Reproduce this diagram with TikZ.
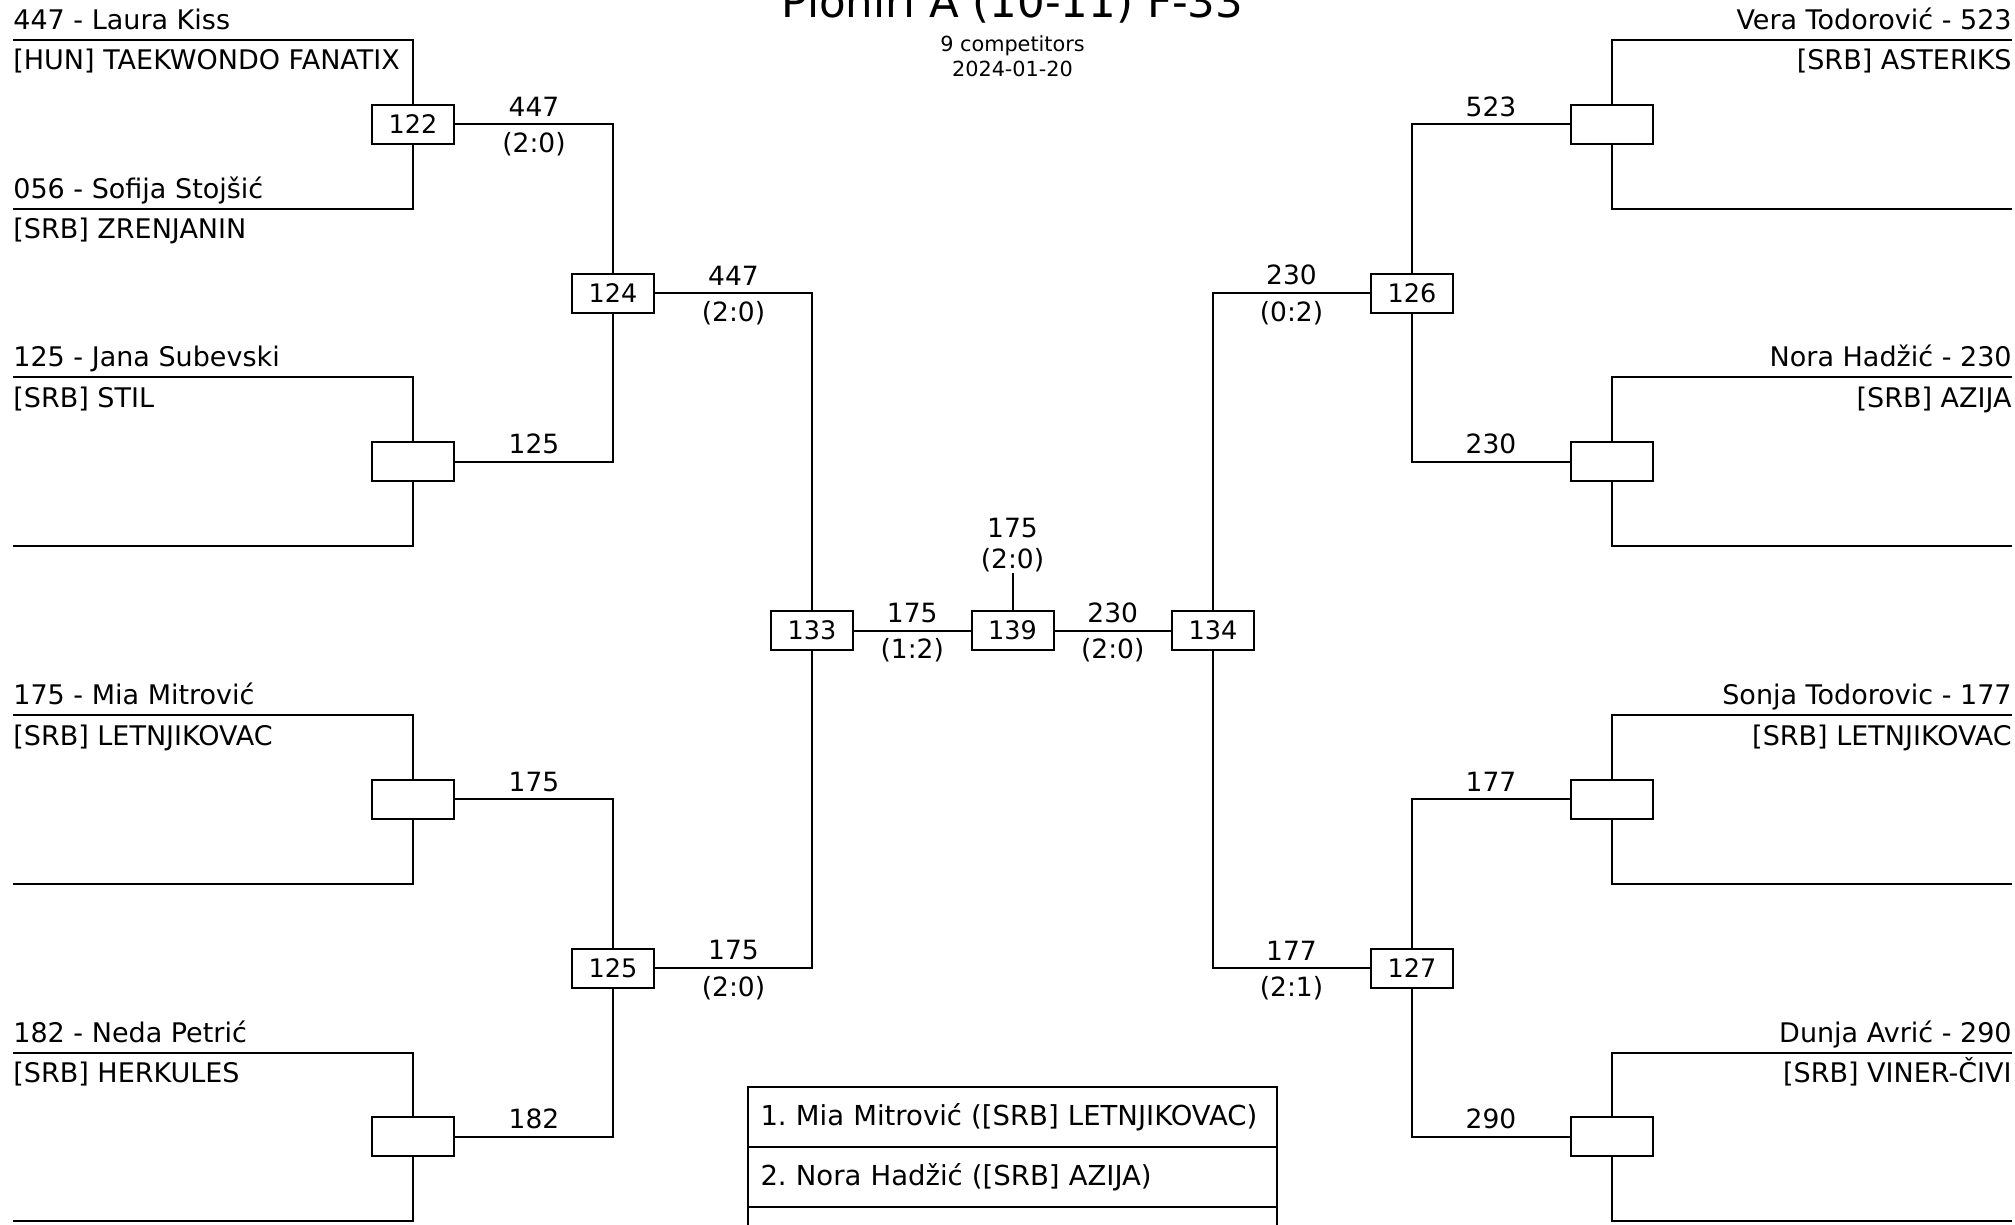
\documentclass[tikz,border=0pt]{standalone}
\usepackage{fontspec}
\setmainfont{DejaVu Sans}
\usetikzlibrary{math}
\frenchspacing

\begin{document}
\begin{tikzpicture}[x=0.5pt, y=-0.5pt,
  bracket/.style={line width=1pt},
  match/.style={draw, fill=white, line width=1pt, minimum width=41pt, minimum height=19.5pt, inner sep=0pt, font=\fontsize{12.75}{15}\selectfont},
  res/.style={inner sep=3.4pt, font=\fontsize{13.25}{15.6}\selectfont},
  namel/.style={anchor=base west, yshift=5.25pt, inner sep=0pt, font=\fontsize{13.5}{16}\selectfont},
  clubl/.style={anchor=base west, yshift=-15pt, inner sep=0pt, font=\fontsize{13.5}{16}\selectfont},
  namer/.style={anchor=base east, yshift=5.25pt, inner sep=0pt, font=\fontsize{13.5}{16}\selectfont},
  clubr/.style={anchor=base east, yshift=-15pt, inner sep=0pt, font=\fontsize{13.5}{16}\selectfont},
  rank/.style={draw, line width=1pt, minimum width=264.5pt, minimum height=30pt, text width=252pt, align=left, inner sep=6pt, font=\fontsize{13.75}{16}\selectfont}]
\tikzmath{
\yo=40;
\dy=168.75;
\xl=13;
\xr=2012;
\xa=413;
\xb=613;
\xc=812;
\xm=1012.5;
\xA=2025-\xa;
\xB=2025-\xb;
\xC=2025-\xc;
}
\useasboundingbox (0,0) rectangle (2015,1225);
\clip (0,0) rectangle (2015,1225);

 % slot ends
 \foreach \i in {1,...,8}{
  \coordinate (l\i) at (\xl,{\yo+(\i-1)*\dy});
  \coordinate (r\i) at (\xr,{\yo+(\i-1)*\dy});
 }

 % title
 \node[anchor=base, font=\fontsize{21.75}{26}\selectfont] (title) at (\xm,18) {Pioniri A (10-11) F-33};
 \node[anchor=base, font=\fontsize{10.4}{12.5}\selectfont] (count) at (\xm,51.7) {9 competitors};
 \node[anchor=base, font=\fontsize{10.4}{12.5}\selectfont] (date) at (\xm,76.7) {2024-01-20};

 % matches
 \node[match] (m122) at (\xa,{\yo+0.5*\dy}) {122};
 \node[match] (ml2) at (\xa,{\yo+2.5*\dy}) {};
 \node[match] (ml3) at (\xa,{\yo+4.5*\dy}) {};
 \node[match] (ml4) at (\xa,{\yo+6.5*\dy}) {};
 \node[match] (m124) at (\xb,{\yo+1.5*\dy}) {124};
 \node[match] (m125) at (\xb,{\yo+5.5*\dy}) {125};
 \node[match] (m133) at (\xc,{\yo+3.5*\dy}) {133};
 \node[match] (m139) at (\xm,{\yo+3.5*\dy}) {139};
 \node[match] (m134) at (\xC,{\yo+3.5*\dy}) {134};
 \node[match] (m126) at (\xB,{\yo+1.5*\dy}) {126};
 \node[match] (m127) at (\xB,{\yo+5.5*\dy}) {127};
 \node[match] (mr1) at (\xA,{\yo+0.5*\dy}) {};
 \node[match] (mr2) at (\xA,{\yo+2.5*\dy}) {};
 \node[match] (mr3) at (\xA,{\yo+4.5*\dy}) {};
 \node[match] (mr4) at (\xA,{\yo+6.5*\dy}) {};
 \coordinate (w139) at (\xm,572.7);

 % left competitors
 \node[namel] (pl1) at (l1) {447 - Laura Kiss};
 \node[clubl] (cl1) at (l1) {[HUN] TAEKWONDO FANATIX};
 \node[namel] (pl2) at (l2) {056 - Sofija Stojšić};
 \node[clubl] (cl2) at (l2) {[SRB] ZRENJANIN};
 \node[namel] (pl3) at (l3) {125 - Jana Subevski};
 \node[clubl] (cl3) at (l3) {[SRB] STIL};
 \node[namel] (pl5) at (l5) {175 - Mia Mitrović};
 \node[clubl] (cl5) at (l5) {[SRB] LETNJIKOVAC};
 \node[namel] (pl7) at (l7) {182 - Neda Petrić};
 \node[clubl] (cl7) at (l7) {[SRB] HERKULES};

 % right competitors
 \node[namer] (pr1) at (r1) {Vera Todorović - 523};
 \node[clubr] (cr1) at (r1) {[SRB] ASTERIKS};
 \node[namer] (pr3) at (r3) {Nora Hadžić - 230};
 \node[clubr] (cr3) at (r3) {[SRB] AZIJA};
 \node[namer] (pr5) at (r5) {Sonja Todorovic - 177};
 \node[clubr] (cr5) at (r5) {[SRB] LETNJIKOVAC};
 \node[namer] (pr7) at (r7) {Dunja Avrić - 290};
 \node[clubr] (cr7) at (r7) {[SRB] VINER-ČIVI};

 % first round
 \draw[bracket] (l1) -| (m122);
 \draw[bracket] (l2) -| (m122);
 \draw[bracket] (l3) -| (ml2);
 \draw[bracket] (l4) -| (ml2);
 \draw[bracket] (l5) -| (ml3);
 \draw[bracket] (l6) -| (ml3);
 \draw[bracket] (l7) -| (ml4);
 \draw[bracket] (l8) -| (ml4);
 \draw[bracket] (r1) -| (mr1);
 \draw[bracket] (r2) -| (mr1);
 \draw[bracket] (r3) -| (mr2);
 \draw[bracket] (r4) -| (mr2);
 \draw[bracket] (r5) -| (mr3);
 \draw[bracket] (r6) -| (mr3);
 \draw[bracket] (r7) -| (mr4);
 \draw[bracket] (r8) -| (mr4);

 % second round
 \draw[bracket] (m122) -| (m124) node[res,pos=0.25,above] {447} node[res,pos=0.25,below] {(2:0)};
 \draw[bracket] (ml2) -| (m124) node[res,pos=0.25,above] {125};
 \draw[bracket] (ml3) -| (m125) node[res,pos=0.25,above] {175};
 \draw[bracket] (ml4) -| (m125) node[res,pos=0.25,above] {182};
 \draw[bracket] (mr1) -| (m126) node[res,pos=0.25,above] {523};
 \draw[bracket] (mr2) -| (m126) node[res,pos=0.25,above] {230};
 \draw[bracket] (mr3) -| (m127) node[res,pos=0.25,above] {177};
 \draw[bracket] (mr4) -| (m127) node[res,pos=0.25,above] {290};

 % semifinals
 \draw[bracket] (m124) -| (m133) node[res,pos=0.25,above] {447} node[res,pos=0.25,below] {(2:0)};
 \draw[bracket] (m125) -| (m133) node[res,pos=0.25,above] {175} node[res,pos=0.25,below] {(2:0)};
 \draw[bracket] (m126) -| (m134) node[res,pos=0.25,above] {230} node[res,pos=0.25,below] {(0:2)};
 \draw[bracket] (m127) -| (m134) node[res,pos=0.25,above] {177} node[res,pos=0.25,below] {(2:1)};

 % final
 \draw[bracket] (m133) -- (m139) node[res,midway,above] {175} node[res,midway,below] {(1:2)};
 \draw[bracket] (m139) -- (m134) node[res,midway,above] {230} node[res,midway,below] {(2:0)};
 \draw[bracket] (m139) -- (w139) node[res,above,inner sep=0pt,align=center] {175\\(2:0)};

 % ranking
 \node[rank] (rank1) at (\xm,1117.3) {1. Mia Mitrović ([SRB] LETNJIKOVAC)};
 \node[rank] (rank2) at (\xm,1177.3) {2. Nora Hadžić ([SRB] AZIJA)};
 \node[rank] (rank3) at (\xm,1237.3) {};

\end{tikzpicture}
\end{document}
